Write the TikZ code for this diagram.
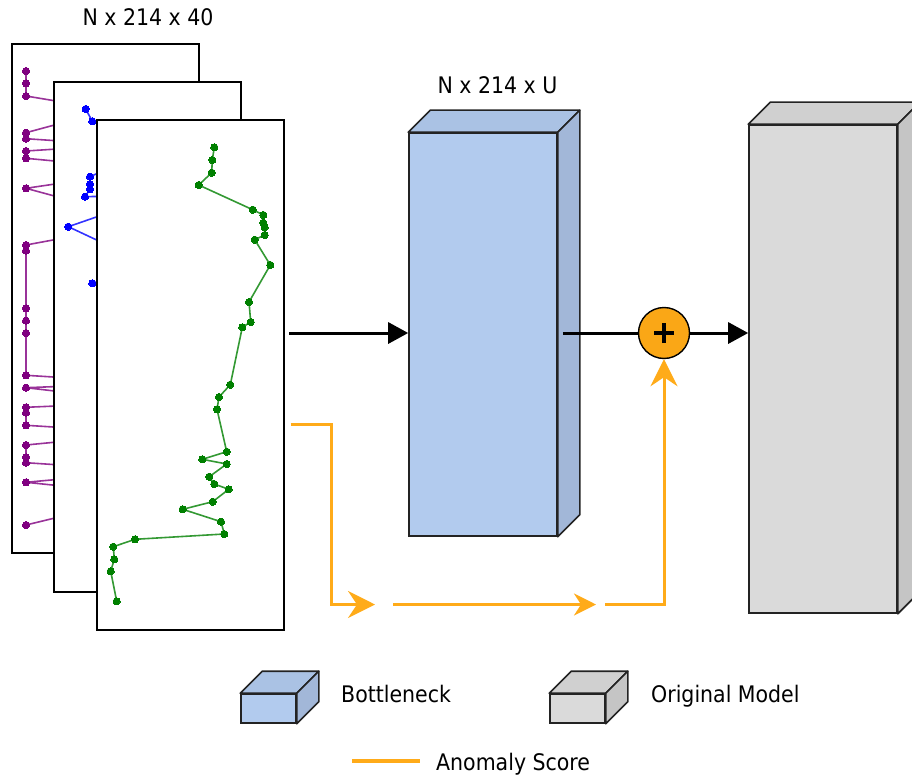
\documentclass[tikz,border=0pt]{standalone}
\usepackage{fontspec}
\setmainfont{DejaVu Sans Condensed}
\usetikzlibrary{arrows.meta}

\definecolor{plotgreen}{RGB}{0,128,0}
\definecolor{plotblue}{RGB}{0,0,255}
\definecolor{plotpurple}{RGB}{128,0,128}
\definecolor{bnfront}{RGB}{178,203,238}
\definecolor{bntop}{RGB}{170,194,228}
\definecolor{bnside}{RGB}{162,183,216}
\definecolor{omfront}{RGB}{218,218,218}
\definecolor{omtop}{RGB}{208,208,208}
\definecolor{omside}{RGB}{197,197,197}
\definecolor{cubeline}{RGB}{35,35,35}
\definecolor{scoreline}{RGB}{255,171,25}
\definecolor{sumfill}{RGB}{250,167,22}

\tikzset{
  panel/.style={rectangle, draw=black, line width=2pt, fill=white, inner sep=0pt,
    minimum width=187pt, minimum height=509pt},
  cubefront/.style={rectangle, draw=cubeline, line width=1.6pt, inner sep=0pt},
  cubeface/.style={draw=cubeline, line width=1.6pt, line join=round},
  series/.style={line width=1.6pt, draw opacity=0.8, mark=*, mark size=3.6pt,
    mark options={solid, draw opacity=1, fill opacity=1, line width=0pt}},
  label/.style={inner sep=0pt, font=\fontsize{22.8}{27}\selectfont},
  mainflow/.style={line width=3pt, draw=black},
  scoreflow/.style={line width=3pt, draw=scoreline},
  bigtip/.style={-{Stealth[length=27pt,width=27pt,inset=9pt]}},
  smalltip/.style={-{Stealth[length=22pt,width=22pt,inset=7pt]}},
  blocktip/.style={-{Triangle[length=20pt,width=21pt]}},
}

% top and side faces of a box whose front face is the node #1
\newcommand\boxfaces[4]{%
  \filldraw[cubeface, fill=#3] (#1.north west) -- ++(#2,-#2)
    -- ([shift={(#2,-#2)}]#1.north east) -- (#1.north east) -- cycle;
  \filldraw[cubeface, fill=#4] (#1.north east) -- ++(#2,-#2)
    -- ([shift={(#2,-#2)}]#1.south east) -- (#1.south east) -- cycle;
}

\begin{document}
\begin{tikzpicture}[x=1pt,y=-1pt]
\useasboundingbox (0,0) rectangle (912,778);
\clip (0,0) rectangle (912,778);

% ---- stacked input plots ----
\node[panel] (p1) at (105.5,298.5) {};
\draw[series, color=plotpurple] plot coordinates {
  (26,71) (26,83.3) (26,96) (110,110) (26,132.7) (26,138.7) (120,145)
  (26,151) (26,158.3) (150,170) (26,188.3) (150,222) (26,245) (26,250.7)
  (26,308.3) (26,320.7) (26,333) (26,375.3) (150,383) (26,387.7) (150,402)
  (26,407.3) (26,412.7) (26,425.3) (150,433) (26,445) (26,457.3) (26,462.7)
  (150,471) (26,482.3) (150,495) (26,525)};

\node[panel] (p2) at (147.5,337) {};
\draw[series, color=plotblue] plot coordinates {
  (85.7,109) (92.3,121.3) (150,150) (90,176.7) (90,184) (90,189.3)
  (85,196.7) (160,195) (68.3,226.7) (150,265) (92.3,283.3) (150,300)};

\node[panel] (p3) at (190.5,375) {};
\draw[series, color=plotgreen] plot coordinates {
  (214.3,147.3) (212.3,160) (211.7,172.7) (198.7,185) (252.7,209.7)
  (263.3,215) (263.3,222.7) (264.7,227.3) (264.7,235) (254.7,239.7)
  (270.3,265) (249,302) (250.7,322) (242.3,327.3) (230.3,384.7)
  (219,397) (217,409.3) (226.7,451.7) (202.3,459.3) (226.7,464)
  (209.3,476.7) (214.3,484) (228.7,489.3) (212.7,501.7) (182.7,509.3)
  (221,521.7) (224.3,534) (135,539.3) (113.3,546.7) (114.3,559.3)
  (110.7,571.3) (116.7,601.3)};

\node[label, anchor=base] (tin) at (148,26) {N x 214 x 40};

% ---- bottleneck block ----
\node[cubefront, fill=bnfront, minimum width=148pt, minimum height=403pt] (bn) at (483,334.5) {};
\boxfaces{bn}{22}{bntop}{bnside}
\node[label, anchor=base] (tbn) at (497.5,93.3) {N x 214 x U};

% ---- original model block ----
\node[cubefront, fill=omfront, minimum width=148pt, minimum height=488pt] (om) at (823,369) {};
\boxfaces{om}{22}{omtop}{omside}

% ---- summation ----
\node[circle, draw=black, line width=1.4pt, fill=sumfill, minimum size=51pt, inner sep=0pt] (plus) at (664,333) {};
\draw[line width=3.4pt] ([xshift=-10pt]plus.center) -- ([xshift=10pt]plus.center);
\draw[line width=3.4pt] ([yshift=-10pt]plus.center) -- ([yshift=10pt]plus.center);

% ---- main data flow ----
\coordinate (fa) at (p3.east |- plus.center);
\coordinate (fb) at (bn.east |- plus.center);
\draw[mainflow, blocktip] ([xshift=4pt]fa) -- (bn.west |- plus.center);
\draw[mainflow] ([xshift=5pt]fb) -- (plus);
\draw[mainflow, blocktip] (plus) -- (om.west |- plus.center);

% ---- anomaly score path ----
\coordinate (s0) at (290.5,424);
\coordinate (s1) at (331,424);
\coordinate (s2) at (331,604.5);
\coordinate (s3) at (375,604.5);
\coordinate (s4) at (393,604.5);
\coordinate (s5) at (596,604.5);
\coordinate (s6) at (605,604.5);
\coordinate (s7) at (plus.center |- s6);
\draw[scoreflow, bigtip] (s0) -- (s1) -- (s2) -- (s3);
\draw[scoreflow, smalltip] (s4) -- (s5);
\draw[scoreflow, bigtip] (s6) -- (s7) -- (plus);

% ---- legend ----
\node[cubefront, fill=bnfront, minimum width=55pt, minimum height=29pt] (lbn) at (268.5,708.5) {};
\boxfaces{lbn}{22}{bntop}{bnside}
\node[label, anchor=base west] (lbntext) at (341,702) {Bottleneck};

\node[cubefront, fill=omfront, minimum width=55pt, minimum height=29pt] (lom) at (577.5,708.5) {};
\boxfaces{lom}{22}{omtop}{omside}
\node[label, anchor=base west] (lomtext) at (651,702) {Original Model};

\coordinate (la) at (352,761);
\coordinate (lb) at (420,761);
\draw[scoreline, line width=4pt] (la) -- (lb);
\node[label, anchor=base west] (lsctext) at (436,770) {Anomaly Score};
\end{tikzpicture}
\end{document}
